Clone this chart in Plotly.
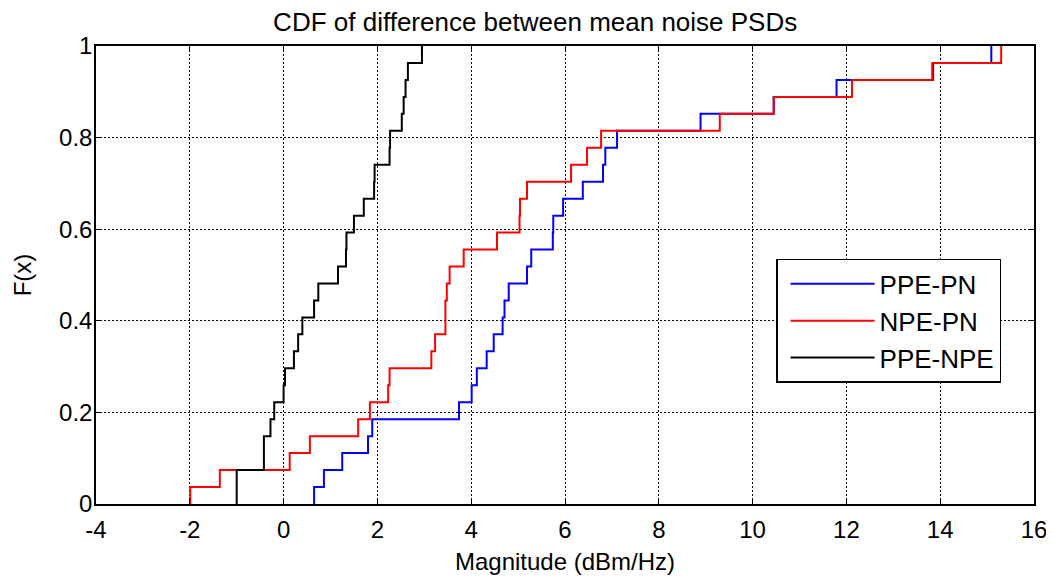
import plotly.graph_objects as go

# sample values (27 samples per series)
ppe_pn = [0.65, 0.86, 1.25, 1.80, 1.89, 3.74, 4.01, 4.12, 4.33, 4.48, 4.67, 4.71, 4.80,
          5.19, 5.28, 5.74, 5.75, 5.96, 6.38, 6.81, 6.86, 7.11, 8.89, 10.45, 11.79, 13.85, 15.09]
npe_pn = [-1.99, -1.36, 0.13, 0.56, 1.59, 1.84, 2.23, 2.26, 3.15, 3.23, 3.45, 3.45, 3.48,
          3.54, 3.84, 4.55, 5.03, 5.04, 5.19, 6.13, 6.47, 6.77, 9.30, 10.45, 12.12, 13.83, 15.30]
ppe_npe = [-1.0, -1.0, -0.42, -0.42, -0.28, -0.20, 0.0, 0.03, 0.22, 0.31, 0.40, 0.65, 0.74,
           1.16, 1.33, 1.34, 1.50, 1.71, 1.93, 1.94, 2.26, 2.27, 2.52, 2.56, 2.60, 2.65, 2.95]

series_names = ["PPE-PN", "NPE-PN", "PPE-NPE"]
series_colors = ["#0000ff", "#ff0000", "#000000"]

x_ticks = [-4, -2, 0, 2, 4, 6, 8, 10, 12, 14, 16]
x_labels = ["-4", "-2", "0", "2", "4", "6", "8", "10", "12", "14", "16"]
y_ticks = [0, 0.2, 0.4, 0.6, 0.8, 1]
y_labels = ["0", "0.2", "0.4", "0.6", "0.8", "1"]

FONT = "Liberation Sans, Arial, Helvetica, sans-serif"

fig = go.Figure()

for name, color, vals in zip(series_names, series_colors, [ppe_pn, npe_pn, ppe_npe]):
    s = sorted(vals)
    n = len(s)
    # empirical cdf as a step line
    xs = [s[0]] + s
    ys = [0] + [(k + 1) / n for k in range(n)]
    fig.add_trace(go.Scatter(x=xs, y=ys, mode="lines", name=name,
                             line=dict(color=color, width=2, shape="hv")))

axis_common = dict(
    showline=True, linecolor="black", linewidth=1.5, mirror="ticks",
    ticks="inside", ticklen=6, tickcolor="black", tickwidth=1,
    showgrid=True, gridcolor="black", gridwidth=1, griddash="2px,2px",
    zeroline=False, automargin=False,
    tickfont=dict(family=FONT, size=24, color="black"),
)

fig.update_xaxes(range=[-4, 16], tickvals=x_ticks, ticktext=x_labels, ticklabelstandoff=3,
                 title=dict(text="Magnitude (dBm/Hz)", font=dict(family=FONT, size=24, color="black"), standoff=12),
                 **axis_common)
fig.update_yaxes(range=[0, 1], tickvals=y_ticks, ticktext=y_labels, ticklabelstandoff=-3,
                 title=dict(text="F(x)", font=dict(family=FONT, size=24, color="black"), standoff=21),
                 **axis_common)

# the page puts the plot 8px in from the top-left corner, so the figure is 8px smaller
fig.update_layout(
    width=1046, height=571,
    margin=dict(l=88, r=20, t=38, b=75),
    plot_bgcolor="white", paper_bgcolor="white",
    title=dict(text="CDF of difference between mean noise PSDs", x=0.504, xanchor="center",
               y=0.976, yanchor="middle", font=dict(family=FONT, size=26, color="black")),
    legend=dict(x=0.725, y=0.535, xanchor="left", yanchor="top",
                bordercolor="black", borderwidth=1.5, bgcolor="white",
                font=dict(family=FONT, size=26, color="black"), itemwidth=84,
                indentation=8),
    showlegend=True,
)

fig.write_html("out.html")
